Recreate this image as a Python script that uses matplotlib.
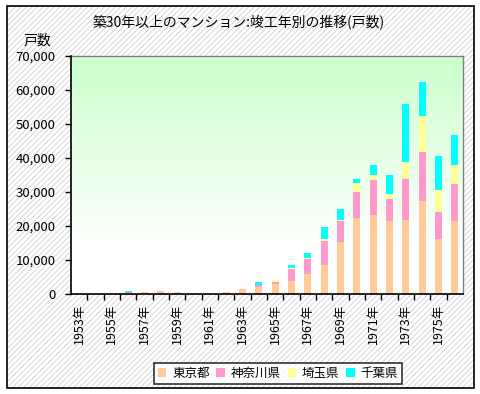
"""
Stacked bar chart: condominiums aged 30+ years, units by completion year
(Tokyo / Kanagawa / Saitama / Chiba).
"""

import numpy as np
import matplotlib
matplotlib.use("Agg")
import matplotlib.pyplot as plt
from matplotlib.patches import Rectangle
from matplotlib.ticker import FuncFormatter, FixedLocator

plt.rcParams["font.family"] = ["Noto Sans CJK JP", "DejaVu Sans"]
plt.rcParams["hatch.linewidth"] = 0.5

PALETTE = {
    "tokyo":    "#FFCC99",
    "kanagawa": "#FF99CC",
    "saitama":  "#FFFF99",
    "chiba":    "#00FFFF",
    "hatch":    "#c8c8c8",
    "frame":    "#808080",
    "green":    "#CCFFCC",
}

years = list(range(1953, 1977))
series_names = ["東京都", "神奈川県", "埼玉県", "千葉県"]

# units per completion year
tokyo    = [0, 0, 0, 400, 490, 780, 490, 0, 0, 490, 1370, 1960,
            2900, 3750, 5800, 8560, 15350, 22440, 23330, 21560,
            21850, 27460, 16240, 21560]
kanagawa = [0, 0, 0, 200, 0, 0, 0, 0, 0, 0, 0, 800,
            530, 3550, 4400, 7090, 6200, 7680, 10330, 6490,
            12110, 14170, 7970, 10920]
saitama  = [0, 0, 0, 0, 0, 0, 0, 0, 0, 0, 0, 0,
            590, 490, 300, 490, 300, 2660, 1480, 1480,
            4720, 10630, 6500, 5320]
chiba    = [0, 0, 0, 280, 0, 0, 0, 0, 0, 0, 0, 650,
            0, 690, 1470, 3640, 3250, 1180, 2660, 5610,
            17130, 10040, 9740, 8850]

y_ticks = list(range(0, 70001, 10000))

W, H = 481, 394
fig = plt.figure(figsize=(W / 100, H / 100), dpi=100)
fig.patch.set_facecolor("white")

# hatched chart-area background with black frame
fx0, fy0, fx1, fy1 = 7 / W, 1 - 388 / H, 474 / W, 1 - 6 / H
fig.patches.append(Rectangle((fx0, fy0), fx1 - fx0, fy1 - fy0,
                             transform=fig.transFigure, facecolor="white",
                             edgecolor=PALETTE["hatch"], hatch="//////",
                             linewidth=0, zorder=-2))
fig.patches.append(Rectangle((fx0, fy0), fx1 - fx0, fy1 - fy0,
                             transform=fig.transFigure, fill=False,
                             edgecolor="black", linewidth=1.2, zorder=5))

ax = fig.add_axes([71 / W, 1 - 294 / H, (463 - 71) / W, (294 - 56) / H])
ax.set_facecolor("white")

# green -> white gradient of the plot area
f = np.linspace(0, 1, 256)[:, None]
t = np.clip((f - 0.18) / 0.82, 0, 1)
g = np.array(matplotlib.colors.to_rgb(PALETTE["green"]))
grad = (1 - t)[..., None] * np.ones(3) + t[..., None] * g
ax.imshow(grad, extent=[0, 1, 0, 1], transform=ax.transAxes, origin="lower",
          aspect="auto", zorder=0, interpolation="bilinear")

x = np.arange(len(years))
bottom = np.zeros(len(years))
handles = []
for name, vals, col in zip(series_names,
                           [tokyo, kanagawa, saitama, chiba],
                           [PALETTE["tokyo"], PALETTE["kanagawa"],
                            PALETTE["saitama"], PALETTE["chiba"]]):
    vals = np.array(vals, dtype=float)
    b = ax.bar(x, vals, bottom=bottom, width=0.43, color=col,
               linewidth=0, label=name, zorder=2)
    handles.append(b)
    bottom += vals

ax.set_xlim(-0.5, len(years) - 0.5)
ax.set_ylim(0, 70000)

ax.set_yticks(y_ticks)
ax.yaxis.set_major_formatter(FuncFormatter(lambda v, p: f"{int(v):,}"))
ax.tick_params(axis="y", direction="out", length=4, width=1,
               labelsize=9.5, pad=7, colors="black")

ax.set_xticks(x[::2])
ax.set_xticklabels([f"{y}年" for y in years[::2]], rotation=90, fontsize=9)
ax.tick_params(axis="x", which="major", length=0, pad=7)
ax.xaxis.set_minor_locator(FixedLocator(np.arange(0.5, len(years) - 0.5, 1)))
ax.tick_params(axis="x", which="minor", direction="out", length=4, width=1)

for side in ["top", "right"]:
    ax.spines[side].set_color(PALETTE["frame"])
    ax.spines[side].set_linewidth(1)
for side in ["left", "bottom"]:
    ax.spines[side].set_color("black")
    ax.spines[side].set_linewidth(1.2)
    ax.spines[side].set_zorder(3)

fig.text(239 / W, 1 - 22 / H, "築30年以上のマンション:竣工年別の推移(戸数)",
         ha="center", va="center", fontsize=10)
fig.text(37 / W, 1 - 41 / H, "戸数", ha="center", va="center", fontsize=10)

leg = fig.legend(handles=handles, labels=series_names, loc="center",
                 bbox_to_anchor=(278 / W, 1 - 373.5 / H), ncol=4,
                 fontsize=9, frameon=True, fancybox=False,
                 edgecolor="black", handlelength=0.7, handleheight=0.7,
                 handletextpad=0.45, columnspacing=0.55, borderpad=0.3)
leg.get_frame().set_linewidth(1.2)
leg.get_frame().set_facecolor("white")

fig.savefig("out.png", dpi=100)
